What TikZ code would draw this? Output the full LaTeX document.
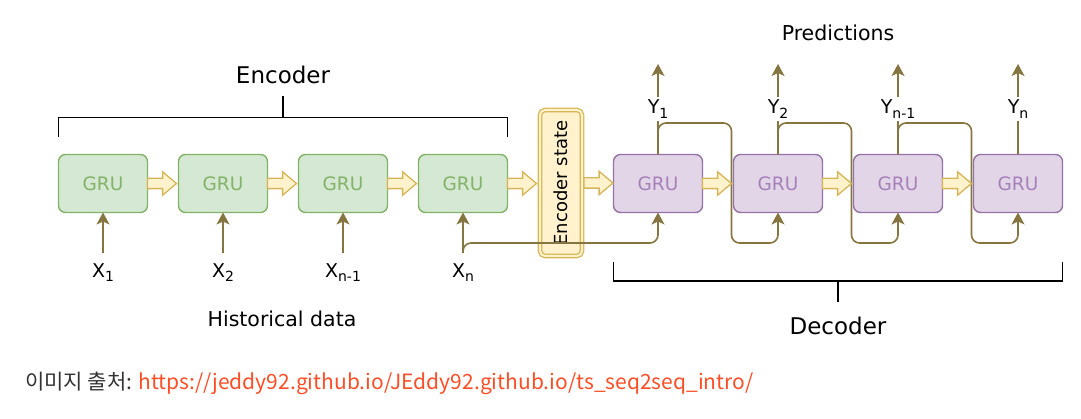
\documentclass[tikz,border=0pt]{standalone}
\usepackage{fontspec}
\setmainfont{DejaVu Sans}
\newfontfamily\krfont{Noto Sans CJK KR}
\usetikzlibrary{calc,arrows.meta,shapes.arrows}

\definecolor{encfill}{HTML}{D5E8D4}
\definecolor{encline}{HTML}{82B366}
\definecolor{decfill}{HTML}{E1D5E7}
\definecolor{decline}{HTML}{9673A6}
\definecolor{decfont}{HTML}{A680B8}
\definecolor{statefill}{HTML}{FFF2CC}
\definecolor{stateline}{HTML}{D6B656}
\definecolor{flowcol}{HTML}{857540}
\definecolor{srccol}{HTML}{FF4E26}
\definecolor{footgray}{HTML}{333333}

\newcommand\sub[1]{\raisebox{-0.45ex}{\fontsize{14pt}{14pt}\selectfont #1}}

\tikzset{
  gru/.style={draw, rounded corners=7pt, line width=1.4pt, outer sep=0pt,
    minimum width=89pt, minimum height=58pt, font=\fontsize{18.5pt}{18.5pt}\selectfont},
  encgru/.style={gru, draw=encline, fill=encfill, text=encline},
  decgru/.style={gru, draw=decline, fill=decfill, text=decfont},
  fat/.style={single arrow, draw=stateline, fill=statefill, line width=1.3pt,
    minimum height=29pt, inner sep=4.5pt, outer sep=0pt,
    single arrow head extend=6.5pt, single arrow tip angle=80, anchor=west},
  flow/.style={draw=flowcol, line width=1.6pt, -{Stealth[length=12pt,width=13pt,inset=3pt]}},
  wire/.style={draw=flowcol, line width=1.6pt},
  brace/.style={draw=black, line width=1.4pt},
  lbl/.style={font=\fontsize{19pt}{19pt}\selectfont, inner sep=3pt},
  big/.style={font=\fontsize{23pt}{23pt}\selectfont}
}

\begin{document}
\begin{tikzpicture}[x=1pt,y=-1pt]
  \useasboundingbox (0,0) rectangle (1081,419);
  \coordinate (top) at (0,123);
  \coordinate (bot) at (0,243);

  % encoder side
  \foreach \i/\x/\s in {1/103/1,2/223/2,3/343/{n-1},4/463/n}{
    \node[encgru] (g\i) at (\x,183.5) {GRU};
    \node[lbl, anchor=north] (x\i) at (\x,260) {X\sub{\s}};
    \draw[flow, shorten <=7pt] (x\i) -- (g\i);
  }

  \node[draw=stateline, double=statefill, double distance=2pt, fill=statefill,
    rounded corners=5pt, line width=1.3pt, outer sep=2pt, minimum width=42pt,
    minimum height=146pt, font=\fontsize{18pt}{18pt}\selectfont]
    (es) at (561,183) {\rotatebox{90}{Encoder state}};

  % decoder side
  \foreach \i/\x/\s in {1/658/1,2/778/2,3/898/{n-1},4/1018/n}{
    \node[decgru] (d\i) at (\x,183.5) {GRU};
    \node[lbl] (y\i) at (\x,109) {Y\sub{\s}};
    \coordinate (p\i) at (\x,64);
    \draw[wire] (d\i) -- (y\i);
    \draw[flow] (y\i) -- (p\i);
  }
  \foreach \i/\j in {1/2,2/3,3/4}{
    \draw[flow, rounded corners=8pt] (d\i.north) |- ([xshift=-2pt]d\j.west |- top)
      |- (d\j.south |- bot) -- (d\j.south);
  }
  \draw[flow, rounded corners=8pt, shorten <=7pt] (x4.north) |- (d1.south |- bot) -- (d1.south);

  % hidden state handoff
  \foreach \a in {g1,g2,g3,g4,es,d1,d2,d3}{
    \node[fat] at (\a.east) {};
  }

  % brackets
  \draw[brace] ([yshift=17pt]g1.north west) -- ++(0,-20) -| ([yshift=17pt]g4.north east);
  \coordinate (encmid) at ($([yshift=37pt]g1.north west)!0.5!([yshift=37pt]g4.north east)$);
  \draw[brace] (encmid) -- ++(0,-21);
  \draw[brace] ([yshift=-49.5pt]d1.south west) -- ++(0,19) -| ([yshift=-49.5pt]d4.south east);
  \coordinate (decmid) at ($([yshift=-68.5pt]d1.south west)!0.5!([yshift=-68.5pt]d4.south east)$);
  \draw[brace] (decmid) -- ++(0,21);

  \node[big] (enclbl) at (283,75) {Encoder};
  \node[big] (declbl) at (838,326) {Decoder};
  \node[font=\fontsize{20.5pt}{20.5pt}\selectfont] (pred) at (838,33) {Predictions};
  \node[font=\fontsize{20.5pt}{20.5pt}\selectfont] (hist) at (282,319) {Historical data};

  \node[anchor=west, inner sep=0pt, text=footgray, font=\krfont\fontsize{21pt}{21pt}\selectfont]
    (src) at (25,383) {이미지 출처: \textcolor{srccol}{https://jeddy92.github.io/JEddy92.github.io/ts\_seq2seq\_intro/}};
\end{tikzpicture}
\end{document}
